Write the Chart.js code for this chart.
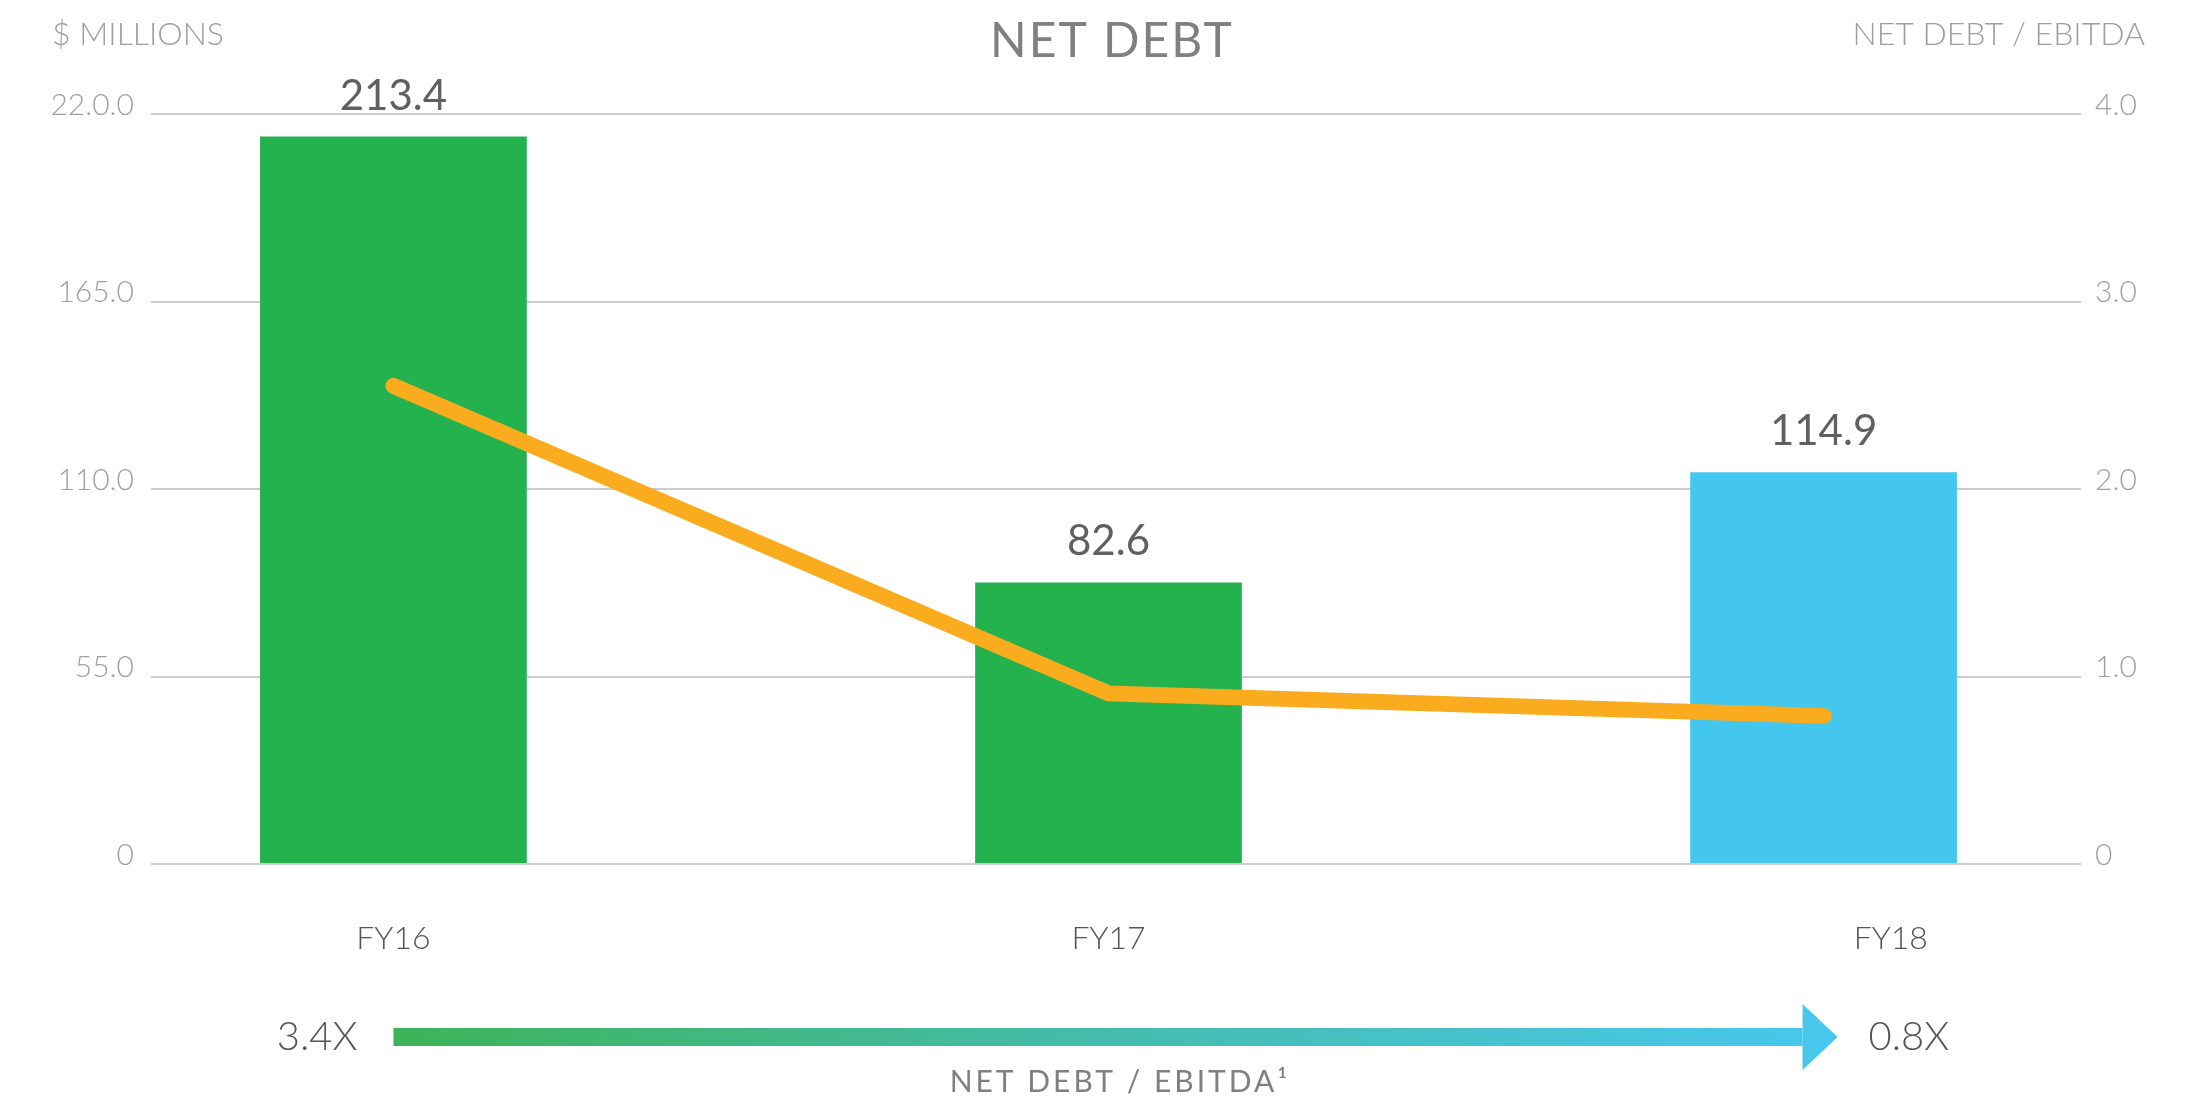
<!DOCTYPE html>
<html>
<head>
<meta charset="utf-8">
<script src="https://cdn.jsdelivr.net/npm/chart.js@4.4.1/dist/chart.umd.min.js"></script>
<style>
  html, body { margin: 0; padding: 0; background: #ffffff; }
  canvas { display: block; }
</style>
</head>
<body>
<canvas id="chart" width="2203" height="1096"></canvas>
<script>
// values
const categories = ["FY16", "FY17", "FY18"];
const netDebt = [213.4, 82.6, 114.9];
const debtToEbitda = [2.55, 0.91, 0.79];
const barColors = ["#23b24e", "#23b24e", "#44c7ee"];
const leftTicks = ["0", "55.0", "110.0", "165.0", "22.0.0"];
const rightTicks = ["0", "1.0", "2.0", "3.0", "4.0"];
const ratioStart = "3.4X";
const ratioEnd = "0.8X";

const FONT = "Lato, 'Open Sans', sans-serif";

// titles, bar values and the bottom arrow
const extras = {
  id: "extras",
  afterDraw(chart) {
    const ctx = chart.ctx;
    const area = chart.chartArea;
    const xs = chart.scales.x;
    ctx.save();

    ctx.fillStyle = "#808083";
    ctx.font = "400 48px " + FONT;
    ctx.letterSpacing = "2px";
    ctx.textAlign = "center";
    ctx.textBaseline = "middle";
    ctx.fillText("NET DEBT", (area.left + area.right) / 2 - 4, 42);
    ctx.letterSpacing = "0px";

    ctx.fillStyle = "#9d9d9d";
    ctx.font = "300 32px " + FONT;
    ctx.textAlign = "left";
    ctx.fillText("$ MILLIONS", 52, 35);
    ctx.textAlign = "right";
    ctx.fillText("NET DEBT / EBITDA", 2145, 35);

    // value labels over the bars
    const meta = chart.getDatasetMeta(0);
    ctx.fillStyle = "#606060";
    ctx.font = "400 42px " + FONT;
    ctx.textAlign = "center";
    ctx.textBaseline = "alphabetic";
    meta.data.forEach((bar, i) => {
      ctx.fillText(netDebt[i].toFixed(1), bar.x, bar.y - 27);
    });

    // gradient arrow under the axis
    const x0 = xs.getPixelForValue(0);
    const tip = xs.getPixelForValue(categories.length - 1) + 14;
    const head = tip - 35;
    const ay = 1037;
    const grad = ctx.createLinearGradient(x0, 0, tip, 0);
    grad.addColorStop(0, "#3db458");
    grad.addColorStop(0.5, "#45bcae");
    grad.addColorStop(1, "#47c8ee");
    ctx.fillStyle = grad;
    ctx.fillRect(x0, ay - 9, head - x0, 18);
    ctx.beginPath();
    ctx.moveTo(head, ay - 33);
    ctx.lineTo(tip, ay);
    ctx.lineTo(head, ay + 33);
    ctx.closePath();
    ctx.fill();

    ctx.fillStyle = "#555555";
    ctx.font = "300 40px " + FONT;
    ctx.textBaseline = "middle";
    ctx.textAlign = "right";
    ctx.fillText(ratioStart, x0 - 36, ay);
    ctx.textAlign = "left";
    ctx.fillText(ratioEnd, tip + 31, ay);

    ctx.fillStyle = "#808083";
    ctx.font = "400 30px " + FONT;
    ctx.letterSpacing = "3px";
    ctx.textAlign = "center";
    ctx.fillText("NET DEBT / EBITDA\u00b9", 1120, 1082);

    ctx.restore();
  }
};

new Chart(document.getElementById("chart"), {
  data: {
    datasets: [
      {
        type: "bar",
        data: categories.map((c, i) => ({ x: i, y: netDebt[i] })),
        backgroundColor: barColors,
        borderWidth: 0,
        categoryPercentage: 1,
        barPercentage: 0.373,
        yAxisID: "y",
        order: 1
      },
      {
        type: "line",
        data: categories.map((c, i) => ({ x: i, y: debtToEbitda[i] })),
        borderColor: "#faab1e",
        borderWidth: 16,
        borderCapStyle: "round",
        borderJoinStyle: "miter",
        pointRadius: 0,
        tension: 0,
        fill: false,
        yAxisID: "y1",
        order: 0
      }
    ]
  },
  plugins: [extras],
  options: {
    responsive: false,
    animation: false,
    layout: { padding: { top: 114, left: 0, right: 0, bottom: 0 } },
    plugins: {
      legend: { display: false },
      title: { display: false },
      tooltip: { enabled: false }
    },
    scales: {
      x: {
        type: "linear",
        offset: false,
        min: -0.339,
        max: 2.36,
        grid: { display: false, drawTicks: false },
        border: { display: false },
        afterBuildTicks: (s) => {
          // FY18 label sits a little right of its bar in the source
          s.ticks = categories.map((c, i) => ({ value: i === categories.length - 1 ? i + 0.094 : i }));
        },
        afterFit: (s) => { s.height = 232; },
        ticks: {
          padding: 55,
          color: "#555555",
          font: { family: FONT, size: 32, weight: 300 },
          autoSkip: false,
          maxRotation: 0,
          callback: (v, i) => categories[i]
        }
      },
      y: {
        position: "left",
        min: 0,
        max: 220,
        afterBuildTicks: (s) => {
          s.ticks = leftTicks.map((t, i) => ({ value: i * 55 }));
        },
        afterFit: (s) => { s.width = 151; },
        grid: { color: "#cccccc", lineWidth: 2, drawTicks: false },
        border: { display: false },
        ticks: {
          padding: 17,
          labelOffset: -9,
          color: "#a0a0a0",
          font: { family: FONT, size: 30, weight: 300 },
          callback: (v, i) => leftTicks[i]
        }
      },
      y1: {
        position: "right",
        min: 0,
        max: 4,
        afterBuildTicks: (s) => {
          s.ticks = rightTicks.map((t, i) => ({ value: i }));
        },
        afterFit: (s) => { s.width = 122; },
        grid: { display: false, drawTicks: false },
        border: { display: false },
        ticks: {
          padding: 14,
          labelOffset: -9,
          color: "#a0a0a0",
          font: { family: FONT, size: 30, weight: 300 },
          callback: (v, i) => rightTicks[i]
        }
      }
    }
  }
});
</script>
</body>
</html>
